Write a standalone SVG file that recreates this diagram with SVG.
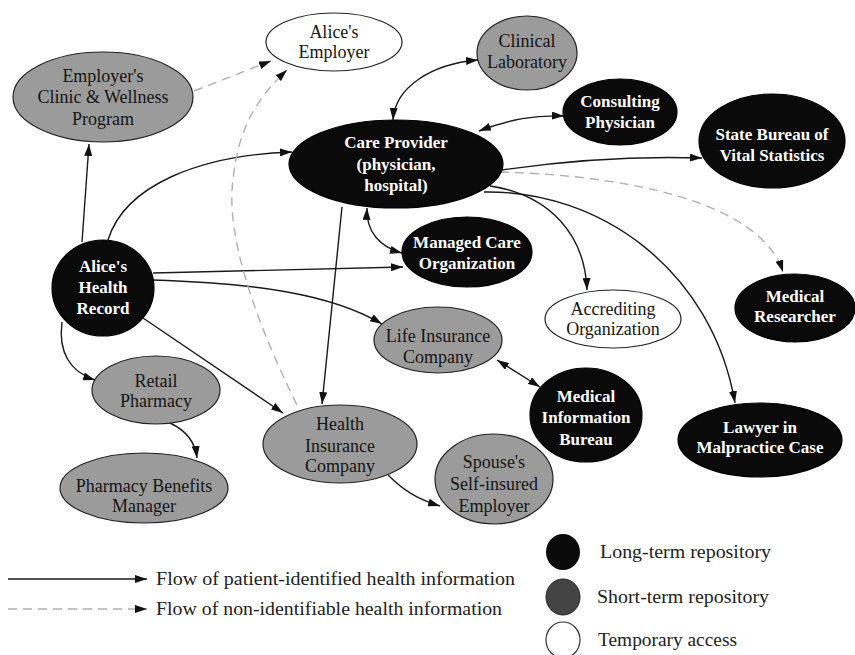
<svg xmlns="http://www.w3.org/2000/svg" width="855" height="655" viewBox="0 0 855 655">
  <style>
    .long { fill: #0a0a0a; stroke: #000; stroke-width: 1.2; }
    .short { fill: #9b9b9b; stroke: #222; stroke-width: 1.2; }
    .temp { fill: #fff; stroke: #222; stroke-width: 1.2; }
    .lbl { font-family: "Liberation Serif", "Times New Roman", serif; font-size: 17px; text-anchor: middle; }
    .lbl-w { fill: #fff; font-weight: bold; }
    .lbl-d { fill: #151515; font-size: 18px; }
    .flow { fill: none; stroke: #1a1a1a; stroke-width: 1.4; }
    .anon { fill: none; stroke: #b0b0b0; stroke-width: 1.4; stroke-dasharray: 9 6; }
    .leg { font-family: "Liberation Serif", "Times New Roman", serif; font-size: 18px; fill: #222; }
  </style>
  <defs>
    <marker id="arrow" viewBox="0 0 12 8" refX="12" refY="4" markerWidth="12" markerHeight="8" markerUnits="userSpaceOnUse" orient="auto-start-reverse">
      <path d="M0,0 L12,4 L0,8 z" fill="#111"/>
    </marker>
  </defs>
  <rect width="855" height="655" fill="#fff"/>

  <!-- connectors -->
  <g id="connectors">
    <!-- patient-identified flows -->
    <path class="flow" d="M82,242 L89,144" marker-end="url(#arrow)"/>
    <path class="flow" d="M108,240 C 125,185 200,155 292,152" marker-end="url(#arrow)"/>
    <path class="flow" d="M153,273 L403,267" marker-end="url(#arrow)"/>
    <path class="flow" d="M153,280 C 250,283 330,293 382,324" marker-end="url(#arrow)"/>
    <path class="flow" d="M143,318 L283,413" marker-end="url(#arrow)"/>
    <path class="flow" d="M62,322 C 58,352 70,372 95,380" marker-end="url(#arrow)"/>
    <path class="flow" d="M170,423 C 185,430 195,440 197,458" marker-end="url(#arrow)"/>
    <path class="flow" d="M342,207 L322,404" marker-end="url(#arrow)"/>
    <path class="flow" d="M367,208 C 366,232 380,247 402,253" marker-start="url(#arrow)" marker-end="url(#arrow)"/>
    <path class="flow" d="M393,120 C 395,88 430,64 478,60" marker-start="url(#arrow)" marker-end="url(#arrow)"/>
    <path class="flow" d="M479,131 C 510,119 535,115 564,116" marker-start="url(#arrow)" marker-end="url(#arrow)"/>
    <path class="flow" d="M502,170 C 570,160 640,156 702,158" marker-end="url(#arrow)"/>
    <path class="flow" d="M490,186 C 550,195 585,235 587,290" marker-end="url(#arrow)"/>
    <path class="flow" d="M484,192 C 600,190 712,270 735,403" marker-end="url(#arrow)"/>
    <path class="flow" d="M497,360 L540,387" marker-start="url(#arrow)" marker-end="url(#arrow)"/>
    <path class="flow" d="M388,475 C 405,492 420,500 440,506" marker-end="url(#arrow)"/>
    <!-- non-identifiable flows -->
    <path class="anon" d="M500,172 C 620,175 760,200 783,272" marker-end="url(#arrow)"/>
    <path class="anon" d="M194,91 L271,61" marker-end="url(#arrow)"/>
    <path class="anon" d="M297,405 C 250,310 226,230 233,180 C 238,130 255,100 287,70" marker-end="url(#arrow)"/>
  </g>

  <g id="employer-clinic">
    <ellipse class="short" cx="103" cy="97" rx="90" ry="45"/>
    <text class="lbl lbl-d" x="103" y="82">Employer's</text>
    <text class="lbl lbl-d" x="103" y="103">Clinic &amp; Wellness</text>
    <text class="lbl lbl-d" x="103" y="125">Program</text>
  </g>
  <g id="alices-employer">
    <ellipse class="temp" cx="334" cy="42" rx="68" ry="29"/>
    <text class="lbl lbl-d" x="334" y="38">Alice's</text>
    <text class="lbl lbl-d" x="334" y="58">Employer</text>
  </g>
  <g id="clinical-lab">
    <ellipse class="short" cx="527" cy="53" rx="50" ry="37"/>
    <text class="lbl lbl-d" x="527" y="47">Clinical</text>
    <text class="lbl lbl-d" x="527" y="68">Laboratory</text>
  </g>
  <g id="care-provider">
    <ellipse class="long" cx="396" cy="164" rx="107" ry="44"/>
    <text class="lbl lbl-w" x="396" y="148">Care Provider</text>
    <text class="lbl lbl-w" x="396" y="170">(physician,</text>
    <text class="lbl lbl-w" x="396" y="191">hospital)</text>
  </g>
  <g id="consulting-physician">
    <ellipse class="long" cx="620" cy="112" rx="57" ry="33"/>
    <text class="lbl lbl-w" x="620" y="107">Consulting</text>
    <text class="lbl lbl-w" x="620" y="128">Physician</text>
  </g>
  <g id="state-bureau">
    <ellipse class="long" cx="772" cy="141" rx="73" ry="47"/>
    <text class="lbl lbl-w" x="772" y="140">State Bureau of</text>
    <text class="lbl lbl-w" x="772" y="161">Vital Statistics</text>
  </g>
  <g id="managed-care">
    <ellipse class="long" cx="467" cy="252" rx="65" ry="35"/>
    <text class="lbl lbl-w" x="467" y="248">Managed Care</text>
    <text class="lbl lbl-w" x="467" y="269">Organization</text>
  </g>
  <g id="accrediting">
    <ellipse class="temp" cx="613" cy="319" rx="68" ry="29"/>
    <text class="lbl lbl-d" x="613" y="315">Accrediting</text>
    <text class="lbl lbl-d" x="613" y="335">Organization</text>
  </g>
  <g id="medical-researcher">
    <ellipse class="long" cx="795" cy="308" rx="60" ry="34"/>
    <text class="lbl lbl-w" x="795" y="302">Medical</text>
    <text class="lbl lbl-w" x="795" y="322">Researcher</text>
  </g>
  <g id="health-record">
    <ellipse class="long" cx="103" cy="288" rx="51" ry="48"/>
    <text class="lbl lbl-w" x="103" y="272">Alice's</text>
    <text class="lbl lbl-w" x="103" y="293">Health</text>
    <text class="lbl lbl-w" x="103" y="314">Record</text>
  </g>
  <g id="retail-pharmacy">
    <ellipse class="short" cx="156" cy="390" rx="64" ry="34"/>
    <text class="lbl lbl-d" x="156" y="387">Retail</text>
    <text class="lbl lbl-d" x="156" y="407">Pharmacy</text>
  </g>
  <g id="pharmacy-benefits">
    <ellipse class="short" cx="144" cy="488" rx="84" ry="35"/>
    <text class="lbl lbl-d" x="144" y="492">Pharmacy Benefits</text>
    <text class="lbl lbl-d" x="144" y="512">Manager</text>
  </g>
  <g id="life-insurance">
    <ellipse class="short" cx="438" cy="340" rx="64" ry="33"/>
    <text class="lbl lbl-d" x="438" y="342">Life Insurance</text>
    <text class="lbl lbl-d" x="438" y="363">Company</text>
  </g>
  <g id="health-insurance">
    <ellipse class="short" cx="340" cy="444" rx="77" ry="39"/>
    <text class="lbl lbl-d" x="340" y="430">Health</text>
    <text class="lbl lbl-d" x="340" y="452">Insurance</text>
    <text class="lbl lbl-d" x="340" y="472">Company</text>
  </g>
  <g id="medical-info-bureau">
    <ellipse class="long" cx="586" cy="415" rx="56" ry="47"/>
    <text class="lbl lbl-w" x="586" y="402">Medical</text>
    <text class="lbl lbl-w" x="586" y="423">Information</text>
    <text class="lbl lbl-w" x="586" y="445">Bureau</text>
  </g>
  <g id="spouse-employer">
    <ellipse class="short" cx="494" cy="479" rx="59" ry="45"/>
    <text class="lbl lbl-d" x="494" y="468">Spouse's</text>
    <text class="lbl lbl-d" x="494" y="490">Self-insured</text>
    <text class="lbl lbl-d" x="494" y="512">Employer</text>
  </g>
  <g id="lawyer">
    <ellipse class="long" cx="760" cy="440" rx="82" ry="37"/>
    <text class="lbl lbl-w" x="760" y="433">Lawyer in</text>
    <text class="lbl lbl-w" x="760" y="453">Malpractice Case</text>
  </g>

  <!-- legend -->
  <g id="legend">
    <path class="flow" d="M8,579 L147,579" marker-end="url(#arrow)"/>
    <text class="leg" x="156" y="585" textLength="359" lengthAdjust="spacingAndGlyphs">Flow of patient-identified health information</text>
    <path class="anon" d="M8,609 L147,609" marker-end="url(#arrow)"/>
    <text class="leg" x="156" y="615" textLength="346" lengthAdjust="spacingAndGlyphs">Flow of non-identifiable health information</text>
    <ellipse cx="563" cy="552" rx="17" ry="18" fill="#0a0a0a"/>
    <text class="leg" x="600" y="558" textLength="171" lengthAdjust="spacingAndGlyphs">Long-term repository</text>
    <ellipse cx="563" cy="597" rx="17" ry="18" fill="#444" stroke="#222"/>
    <text class="leg" x="597" y="603" textLength="172" lengthAdjust="spacingAndGlyphs">Short-term repository</text>
    <ellipse cx="563" cy="640" rx="17" ry="18" fill="#fff" stroke="#333" stroke-width="1.2"/>
    <text class="leg" x="598" y="646" textLength="139" lengthAdjust="spacingAndGlyphs">Temporary access</text>
  </g>
</svg>
